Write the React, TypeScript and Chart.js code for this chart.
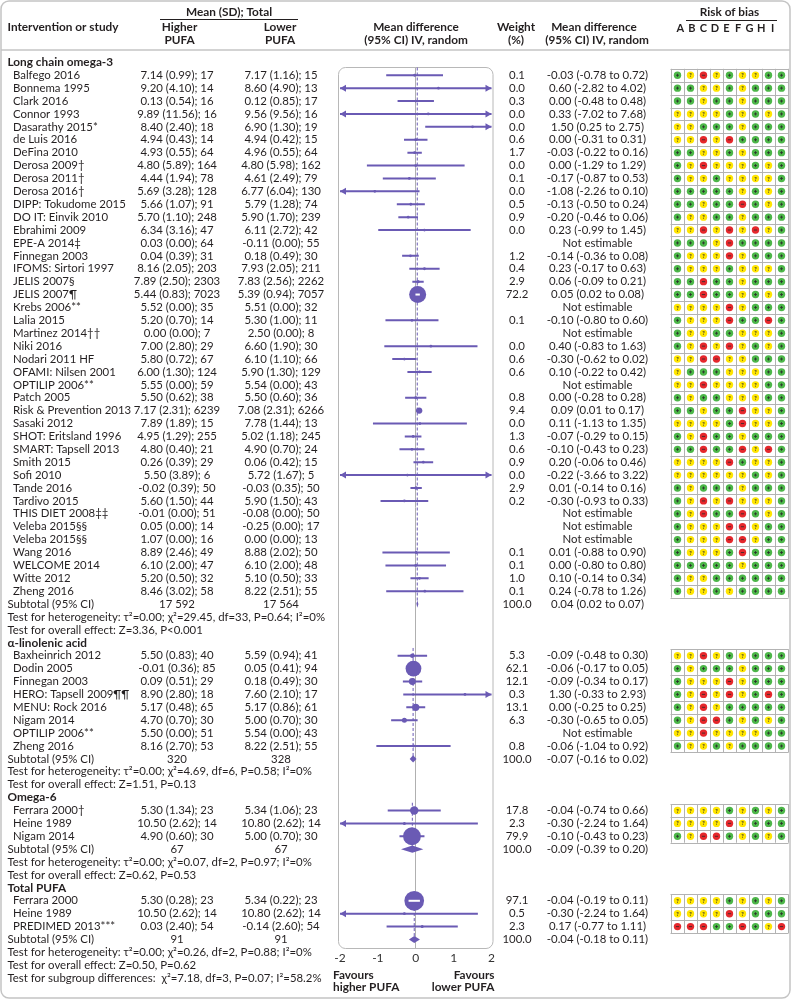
import React, { useEffect, useRef } from "react";
import { Chart, registerables } from "chart.js";

Chart.register(...registerables);

const FONT = "Lato, 'Open Sans', 'DejaVu Sans', sans-serif";
const INK = "#231f20";
const PURPLE = "#6a5ab4";
const LINE_GREY = "#c4c4c4";

// ---------- Long chain omega-3 ----------
const LC_STUDIES = [
  "Balfego 2016", "Bonnema 1995", "Clark 2016", "Connor 1993", "Dasarathy 2015*", "de Luis 2016",
  "DeFina 2010", "Derosa 2009†", "Derosa 2011†", "Derosa 2016†", "DIPP: Tokudome 2015", "DO IT: Einvik 2010",
  "Ebrahimi 2009", "EPE-A 2014‡", "Finnegan 2003", "IFOMS: Sirtori 1997", "JELIS 2007§", "JELIS 2007¶",
  "Krebs 2006**", "Lalia 2015", "Martinez 2014††", "Niki 2016", "Nodari 2011 HF", "OFAMI: Nilsen 2001",
  "OPTILIP 2006**", "Patch 2005", "Risk & Prevention 2013", "Sasaki 2012", "SHOT: Eritsland 1996",
  "SMART: Tapsell 2013", "Smith 2015", "Sofi 2010", "Tande 2016", "Tardivo 2015", "THIS DIET 2008‡‡",
  "Veleba 2015§§", "Veleba 2015§§", "Wang 2016", "WELCOME 2014", "Witte 2012", "Zheng 2016",
];
const LC_HIGHER = [
  "7.14 (0.99); 17", "9.20 (4.10); 14", "0.13 (0.54); 16", "9.89 (11.56); 16", "8.40 (2.40); 18", "4.94 (0.43); 14",
  "4.93 (0.55); 64", "4.80 (5.89); 164", "4.44 (1.94); 78", "5.69 (3.28); 128", "5.66 (1.07); 91", "5.70 (1.10); 248",
  "6.34 (3.16); 47", "0.03 (0.00); 64", "0.04 (0.39); 31", "8.16 (2.05); 203", "7.89 (2.50); 2303", "5.44 (0.83); 7023",
  "5.52 (0.00); 35", "5.20 (0.70); 14", "0.00 (0.00); 7", "7.00 (2.80); 29", "5.80 (0.72); 67", "6.00 (1.30); 124",
  "5.55 (0.00); 59", "5.50 (0.62); 38", "7.17 (2.31); 6239", "7.89 (1.89); 15", "4.95 (1.29); 255",
  "4.80 (0.40); 21", "0.26 (0.39); 29", "5.50 (3.89); 6", "-0.02 (0.39); 50", "5.60 (1.50); 44", "-0.01 (0.00); 51",
  "0.05 (0.00); 14", "1.07 (0.00); 16", "8.89 (2.46); 49", "6.10 (2.00); 47", "5.20 (0.50); 32", "8.46 (3.02); 58",
];
const LC_LOWER = [
  "7.17 (1.16); 15", "8.60 (4.90); 13", "0.12 (0.85); 17", "9.56 (9.56); 16", "6.90 (1.30); 19", "4.94 (0.42); 15",
  "4.96 (0.55); 64", "4.80 (5.98); 162", "4.61 (2.49); 79", "6.77 (6.04); 130", "5.79 (1.28); 74", "5.90 (1.70); 239",
  "6.11 (2.72); 42", "-0.11 (0.00); 55", "0.18 (0.49); 30", "7.93 (2.05); 211", "7.83 (2.56); 2262", "5.39 (0.94); 7057",
  "5.51 (0.00); 32", "5.30 (1.00); 11", "2.50 (0.00); 8", "6.60 (1.90); 30", "6.10 (1.10); 66", "5.90 (1.30); 129",
  "5.54 (0.00); 43", "5.50 (0.60); 36", "7.08 (2.31); 6266", "7.78 (1.44); 13", "5.02 (1.18); 245",
  "4.90 (0.70); 24", "0.06 (0.42); 15", "5.72 (1.67); 5", "-0.03 (0.35); 50", "5.90 (1.50); 43", "-0.08 (0.00); 50",
  "-0.25 (0.00); 17", "0.00 (0.00); 13", "8.88 (2.02); 50", "6.10 (2.00); 48", "5.10 (0.50); 33", "8.22 (2.51); 55",
];
const LC_WEIGHT = [
  0.1, 0.0, 0.3, 0.0, 0.0, 0.6, 1.7, 0.0, 0.1, 0.0, 0.5, 0.9, 0.0, null, 1.2, 0.4, 2.9, 72.2, null, 0.1, null,
  0.0, 0.6, 0.6, null, 0.8, 9.4, 0.0, 1.3, 0.6, 0.9, 0.0, 2.9, 0.2, null, null, null, 0.1, 0.1, 1.0, 0.1,
];
const LC_MD = [
  -0.03, 0.6, 0.0, 0.33, 1.5, 0.0, -0.03, 0.0, -0.17, -1.08, -0.13, -0.2, 0.23, null, -0.14, 0.23, 0.06, 0.05, null,
  -0.1, null, 0.4, -0.3, 0.1, null, 0.0, 0.09, 0.11, -0.07, -0.1, 0.2, -0.22, 0.01, -0.3, null, null, null, 0.01, 0.0,
  0.1, 0.24,
];
const LC_LO = [
  -0.78, -2.82, -0.48, -7.02, 0.25, -0.31, -0.22, -1.29, -0.87, -2.26, -0.5, -0.46, -0.99, null, -0.36, -0.17, -0.09,
  0.02, null, -0.8, null, -0.83, -0.62, -0.22, null, -0.28, 0.01, -1.13, -0.29, -0.43, -0.06, -3.66, -0.14, -0.93,
  null, null, null, -0.88, -0.8, -0.14, -0.78,
];
const LC_HI = [
  0.72, 4.02, 0.48, 7.68, 2.75, 0.31, 0.16, 1.29, 0.53, 0.1, 0.24, 0.06, 1.45, null, 0.08, 0.63, 0.21, 0.08, null,
  0.6, null, 1.63, 0.02, 0.42, null, 0.28, 0.17, 1.35, 0.15, 0.23, 0.46, 3.22, 0.16, 0.33, null, null, null, 0.9, 0.8,
  0.34, 1.26,
];
const LC_ROB = [
  "gyrygyygg", "ggyygyggg", "ggyggyggg", "yyyygygyg", "yygggyggg", "yyryrgggg",
  "ggyygyggg", "gyryyygyg", "gyygyyyyg", "gggggygyg", "ggyggrgyg", "gyyggyggg", "yyryryryg", "gggyrgggg",
  "gyyyryggg", "gyyygyyyg", "ggrggyggg", "ggrggygyg", "yyyyryggg", "gyyyrggrg", "gyyggyyyg", "gyryrygyg",
  "yyrryyggg", "ygggyyygg", "yyryyyygg", "gyggyyygg", "ggyggryyg", "yyyygryyg", "gyrggyggg", "ggrggryrg",
  "yyyyrgyyg", "yyyyyygyg", "gygggyggg", "gyryryyyg", "gyrggrgyg", "gyyyrrygg", "gyyyrrygg", "gyyygrggg",
  "gggggyggg", "gyygggggg", "gyygygggg",
];
const LC_TOTALS = ["17 592", "17 564"];
const LC_POOLED = [0.04, 0.02, 0.07];
const LC_HET = "Test for heterogeneity: τ²=0.00; χ²=29.45, df=33, P=0.64; I²=0%";
const LC_OVERALL = "Test for overall effect: Z=3.36, P<0.001";

// ---------- α-linolenic acid ----------
const ALA_STUDIES = [
  "Baxheinrich 2012", "Dodin 2005", "Finnegan 2003", "HERO: Tapsell 2009¶¶", "MENU: Rock 2016", "Nigam 2014",
  "OPTILIP 2006**", "Zheng 2016",
];
const ALA_HIGHER = [
  "5.50 (0.83); 40", "-0.01 (0.36); 85", "0.09 (0.51); 29", "8.90 (2.80); 18", "5.17 (0.48); 65", "4.70 (0.70); 30",
  "5.50 (0.00); 51", "8.16 (2.70); 53",
];
const ALA_LOWER = [
  "5.59 (0.94); 41", "0.05 (0.41); 94", "0.18 (0.49); 30", "7.60 (2.10); 17", "5.17 (0.86); 61", "5.00 (0.70); 30",
  "5.54 (0.00); 43", "8.22 (2.51); 55",
];
const ALA_WEIGHT = [5.3, 62.1, 12.1, 0.3, 13.1, 6.3, null, 0.8];
const ALA_MD = [-0.09, -0.06, -0.09, 1.3, 0.0, -0.3, null, -0.06];
const ALA_LO = [-0.48, -0.17, -0.34, -0.33, -0.25, -0.65, null, -1.04];
const ALA_HI = [0.3, 0.05, 0.17, 2.93, 0.25, 0.05, null, 0.92];
const ALA_ROB = ["yyrygyggg", "gygggyggg", "gyyyryggg", "gyryrygrg", "gyryggggg", "gyrrgygyg", "yyryyyygg", "gyygygggg"];
const ALA_TOTALS = ["320", "328"];
const ALA_POOLED = [-0.07, -0.16, 0.02];
const ALA_HET = "Test for heterogeneity: τ²=0.00; χ²=4.69, df=6, P=0.58; I²=0%";
const ALA_OVERALL = "Test for overall effect: Z=1.51, P=0.13";

// ---------- Omega-6 ----------
const N6_STUDIES = ["Ferrara 2000†", "Heine 1989", "Nigam 2014"];
const N6_HIGHER = ["5.30 (1.34); 23", "10.50 (2.62); 14", "4.90 (0.60); 30"];
const N6_LOWER = ["5.34 (1.06); 23", "10.80 (2.62); 14", "5.00 (0.70); 30"];
const N6_WEIGHT = [17.8, 2.3, 79.9];
const N6_MD = [-0.04, -0.3, -0.1];
const N6_LO = [-0.74, -2.24, -0.43];
const N6_HI = [0.66, 1.64, 0.23];
const N6_ROB = ["yyyygygyg", "yyyyryggg", "gyrrgygyg"];
const N6_TOTALS = ["67", "67"];
const N6_POOLED = [-0.09, -0.39, 0.2];
const N6_HET = "Test for heterogeneity: τ²=0.00; χ²=0.07, df=2, P=0.97; I²=0%";
const N6_OVERALL = "Test for overall effect: Z=0.62, P=0.53";

// ---------- Total PUFA ----------
const TP_STUDIES = ["Ferrara 2000", "Heine 1989", "PREDIMED 2013***"];
const TP_HIGHER = ["5.30 (0.28); 23", "10.50 (2.62); 14", "0.03 (2.40); 54"];
const TP_LOWER = ["5.34 (0.22); 23", "10.80 (2.62); 14", "-0.14 (2.60); 54"];
const TP_WEIGHT = [97.1, 0.5, 2.3];
const TP_MD = [-0.04, -0.3, 0.17];
const TP_LO = [-0.19, -2.24, -0.77];
const TP_HI = [0.11, 1.64, 1.11];
const TP_ROB = ["yyyygygyg", "yyyyryggg", "rrrggrgyr"];
const TP_TOTALS = ["91", "91"];
const TP_POOLED = [-0.04, -0.18, 0.11];
const TP_HET = "Test for heterogeneity: τ²=0.00; χ²=0.26, df=2, P=0.88; I²=0%";
const TP_OVERALL = "Test for overall effect: Z=0.50, P=0.62";

const SUBGROUP_TEST = "Test for subgroup differences:  χ²=7.18, df=3, P=0.07; I²=58.2%";
const X_TICKS = [-2, -1, 0, 1, 2];
const RISK_LETTERS = ["A", "B", "C", "D", "E", "F", "G", "H", "I"];

type Group = {
  title: string; studies: string[]; higher: string[]; lower: string[];
  weight: (number | null)[]; md: (number | null)[]; lo: (number | null)[]; hi: (number | null)[];
  rob: string[]; totals: string[]; pooled: number[]; het: string; overall: string;
};

const GROUPS: Group[] = [
  { title: "Long chain omega-3", studies: LC_STUDIES, higher: LC_HIGHER, lower: LC_LOWER, weight: LC_WEIGHT, md: LC_MD, lo: LC_LO, hi: LC_HI, rob: LC_ROB, totals: LC_TOTALS, pooled: LC_POOLED, het: LC_HET, overall: LC_OVERALL },
  { title: "α-linolenic acid", studies: ALA_STUDIES, higher: ALA_HIGHER, lower: ALA_LOWER, weight: ALA_WEIGHT, md: ALA_MD, lo: ALA_LO, hi: ALA_HI, rob: ALA_ROB, totals: ALA_TOTALS, pooled: ALA_POOLED, het: ALA_HET, overall: ALA_OVERALL },
  { title: "Omega-6", studies: N6_STUDIES, higher: N6_HIGHER, lower: N6_LOWER, weight: N6_WEIGHT, md: N6_MD, lo: N6_LO, hi: N6_HI, rob: N6_ROB, totals: N6_TOTALS, pooled: N6_POOLED, het: N6_HET, overall: N6_OVERALL },
  { title: "Total PUFA", studies: TP_STUDIES, higher: TP_HIGHER, lower: TP_LOWER, weight: TP_WEIGHT, md: TP_MD, lo: TP_LO, hi: TP_HI, rob: TP_ROB, totals: TP_TOTALS, pooled: TP_POOLED, het: TP_HET, overall: TP_OVERALL },
];

type Row = { kind: string; gi: number; si: number };
const ROWS: Row[] = [];
GROUPS.forEach((g, gi) => {
  ROWS.push({ kind: "group", gi, si: -1 });
  g.studies.forEach((_, si) => ROWS.push({ kind: "study", gi, si }));
  ROWS.push({ kind: "subtotal", gi, si: -1 });
  ROWS.push({ kind: "het", gi, si: -1 });
  ROWS.push({ kind: "overall", gi, si: -1 });
});
ROWS.push({ kind: "subgroup", gi: -1, si: -1 });

const rowOf = (gi: number, si: number) => ROWS.findIndex((r) => r.kind === "study" && r.gi === gi && r.si === si);
const subtotalRow = (gi: number) => ROWS.findIndex((r) => r.kind === "subtotal" && r.gi === gi);

const fmt = (v: number) => v.toFixed(2);
const ciText = (m: number | null, l: number | null, h: number | null) =>
  m === null || l === null || h === null ? "Not estimable" : `${fmt(m)} (${fmt(l)} to ${fmt(h)})`;
const markerRadius = (w: number) => Math.max(1.4, Math.sqrt(w));

// datasets
const markerData: { x: number; y: number }[] = [];
const markerRadii: number[] = [];
const ciData: { x: number; y: number | null }[] = [];
GROUPS.forEach((g, gi) => {
  g.studies.forEach((_, si) => {
    const m = g.md[si], l = g.lo[si], h = g.hi[si], w = g.weight[si];
    if (m === null || l === null || h === null || w === null) return;
    const r = rowOf(gi, si);
    markerData.push({ x: m, y: r });
    markerRadii.push(markerRadius(w));
    ciData.push({ x: l, y: r }, { x: h, y: r }, { x: h, y: null });
  });
});
const pooledDatasets = GROUPS.map((g, gi) => ({
  type: "scatter" as const,
  data: [
    { x: g.pooled[0], y: rowOf(gi, 0) - 0.6 },
    { x: g.pooled[0], y: subtotalRow(gi) },
  ],
  showLine: true,
  borderColor: PURPLE,
  borderWidth: 1,
  borderDash: [3, 2],
  pointRadius: 0,
  order: 3,
}));

const BODY_SIZE = 11.4;
const COLS = { nameHead: 7.5, nameStudy: 13, higher: 177, lower: 281, weight: 517, md: 597.5 };
const ROB_X = 670.5;
const ROB_W = 13;
const ROB_FILL: Record<string, string> = { g: "#4cb648", y: "#ffe500", r: "#e5282c" };

const forestPlugin = {
  id: "forest",
  beforeDatasetsDraw(chart: any) {
    const { ctx, chartArea: a } = chart;
    ctx.save();
    ctx.strokeStyle = "#b8b8b8";
    ctx.lineWidth = 1;
    ctx.beginPath();
    ctx.roundRect(a.left - 1.5, a.top + 0.5, a.right - a.left + 3, a.bottom - a.top, 7);
    ctx.stroke();
    ctx.restore();
  },
  afterDatasetsDraw(chart: any) {
    const { ctx } = chart;
    const xs = chart.scales.x, ys = chart.scales.y;
    ctx.save();
    ctx.fillStyle = PURPLE;
    GROUPS.forEach((g, gi) => {
      g.studies.forEach((_, si) => {
        const m = g.md[si], l = g.lo[si], h = g.hi[si], w = g.weight[si];
        if (m === null || l === null || h === null || w === null) return;
        const y = ys.getPixelForValue(rowOf(gi, si));
        if (l < xs.min) {
          const x0 = xs.getPixelForValue(xs.min);
          ctx.beginPath();
          ctx.moveTo(x0, y);
          ctx.lineTo(x0 + 6, y - 3.5);
          ctx.lineTo(x0 + 6, y + 3.5);
          ctx.closePath();
          ctx.fill();
        }
        if (h > xs.max) {
          const x1 = xs.getPixelForValue(xs.max);
          ctx.beginPath();
          ctx.moveTo(x1, y);
          ctx.lineTo(x1 - 6, y - 3.5);
          ctx.lineTo(x1 - 6, y + 3.5);
          ctx.closePath();
          ctx.fill();
        }
        const rad = markerRadius(w);
        const lp = xs.getPixelForValue(l), hp = xs.getPixelForValue(h), mp = xs.getPixelForValue(m);
        if (rad > 8 && lp > mp - rad && hp < mp + rad) {
          const half = Math.max(2.2, (hp - lp) / 2);
          const c = (lp + hp) / 2;
          ctx.save();
          ctx.strokeStyle = "#ffffff";
          ctx.lineWidth = 2;
          ctx.beginPath();
          ctx.moveTo(Math.max(c - half, mp - rad + 2), y);
          ctx.lineTo(Math.min(c + half, mp + rad - 2), y);
          ctx.stroke();
          ctx.restore();
        }
      });
      const r = subtotalRow(gi);
      const y = ys.getPixelForValue(r);
      const [p, pl, ph] = g.pooled;
      ctx.beginPath();
      ctx.moveTo(xs.getPixelForValue(pl), y);
      ctx.lineTo(xs.getPixelForValue(p), y - 3.6);
      ctx.lineTo(xs.getPixelForValue(ph), y);
      ctx.lineTo(xs.getPixelForValue(p), y + 3.6);
      ctx.closePath();
      ctx.fill();
    });
    ctx.restore();
  },
  afterDraw(chart: any) {
    const { ctx } = chart;
    const ys = chart.scales.y;
    const W = chart.width, H = chart.height;
    const py = (r: number) => ys.getPixelForValue(r);
    const rowH = Math.abs(py(1) - py(0));
    const text = (s: string, x: number, y: number, align: CanvasTextAlign = "left", bold = false, size = BODY_SIZE) => {
      ctx.font = `${bold ? "bold " : ""}${size}px ${FONT}`;
      ctx.textAlign = align;
      ctx.fillText(s, x, y);
    };
    ctx.save();
    ctx.fillStyle = INK;
    ctx.textBaseline = "middle";

    // header
    text("Intervention or study", COLS.nameHead, 27, "left", true, 11.8);
    text("Mean (SD); Total", 229, 12.5, "center", true, 11.8);
    text("Higher", 179.5, 27, "center", true, 11.8);
    text("PUFA", 179.5, 40, "center", true, 11.8);
    text("Lower", 280, 27, "center", true, 11.8);
    text("PUFA", 280, 40, "center", true, 11.8);
    text("Mean difference", 416, 27, "center", true, 11.8);
    text("(95% CI) IV, random", 416, 40, "center", true, 11.8);
    text("Weight", 516, 27, "center", true, 11.8);
    text("(%)", 516, 40, "center", true, 11.8);
    text("Mean difference", 594, 27, "center", true, 11.8);
    text("(95% CI) IV, random", 597, 40, "center", true, 11.8);
    text("Risk of bias", 729.5, 12.5, "center", true, 11.8);
    RISK_LETTERS.forEach((L, i) => text(L, 680.3 + i * 11.55, 28, "center", true, 11));
    ctx.strokeStyle = INK;
    ctx.lineWidth = 1;
    ctx.beginPath();
    ctx.moveTo(160, 19.5); ctx.lineTo(298, 19.5);
    ctx.moveTo(686, 20.5); ctx.lineTo(777, 20.5);
    ctx.stroke();
    ctx.strokeStyle = LINE_GREY;
    ctx.lineWidth = 1.5;
    ctx.beginPath();
    ctx.moveTo(1, 50); ctx.lineTo(790, 50);
    ctx.stroke();

    // table rows
    ROWS.forEach((row, ri) => {
      const y = py(ri);
      const g = GROUPS[row.gi];
      if (row.kind === "group") text(g.title, COLS.nameHead, y, "left", true, 11.8);
      else if (row.kind === "study") {
        const si = row.si;
        text(g.studies[si], COLS.nameStudy, y);
        text(g.higher[si], COLS.higher, y, "center");
        text(g.lower[si], COLS.lower, y, "center");
        const w = g.weight[si];
        if (w !== null) text(w.toFixed(1), COLS.weight, y, "center");
        text(ciText(g.md[si], g.lo[si], g.hi[si]), COLS.md, y, "center");
      } else if (row.kind === "subtotal") {
        text("Subtotal (95% CI)", COLS.nameHead, y);
        text(g.totals[0], COLS.higher, y, "center");
        text(g.totals[1], COLS.lower, y, "center");
        text("100.0", COLS.weight, y, "center");
        text(ciText(g.pooled[0], g.pooled[1], g.pooled[2]), COLS.md, y, "center");
      } else if (row.kind === "het") text(g.het, COLS.nameHead, y);
      else if (row.kind === "overall") text(g.overall, COLS.nameHead, y);
      else if (row.kind === "subgroup") text(SUBGROUP_TEST, COLS.nameHead, y);
    });

    // risk of bias grids
    GROUPS.forEach((g, gi) => {
      const r0 = rowOf(gi, 0), r1 = rowOf(gi, g.studies.length - 1);
      const top = py(r0) - rowH / 2, bottom = py(r1) + rowH / 2;
      ctx.strokeStyle = "#b3b3b3";
      ctx.lineWidth = 1;
      ctx.beginPath();
      for (let k = 0; k <= 9; k++) {
        const x = Math.round(ROB_X + k * ROB_W) + 0.5;
        ctx.moveTo(x, top); ctx.lineTo(x, bottom);
      }
      for (let s = 0; s <= g.studies.length; s++) {
        const yy = Math.round(top + s * rowH) + 0.5;
        ctx.moveTo(ROB_X, yy); ctx.lineTo(ROB_X + 9 * ROB_W + 1, yy);
      }
      ctx.stroke();
      g.rob.forEach((code, si) => {
        const yc = py(rowOf(gi, si));
        code.split("").forEach((c, k) => {
          const xc = ROB_X + k * ROB_W + ROB_W / 2 + 0.5;
          ctx.fillStyle = ROB_FILL[c];
          ctx.beginPath();
          ctx.arc(xc, yc, 3.7, 0, Math.PI * 2);
          ctx.fill();
          ctx.strokeStyle = "#2a2a2a";
          ctx.fillStyle = "#2a2a2a";
          ctx.lineWidth = 0.8;
          if (c === "g") {
            ctx.beginPath();
            ctx.moveTo(xc - 1.5, yc); ctx.lineTo(xc + 1.5, yc);
            ctx.moveTo(xc, yc - 1.5); ctx.lineTo(xc, yc + 1.5);
            ctx.stroke();
          } else if (c === "r") {
            ctx.beginPath();
            ctx.moveTo(xc - 1.6, yc); ctx.lineTo(xc + 1.6, yc);
            ctx.stroke();
          } else {
            ctx.font = `bold 5.5px ${FONT}`;
            ctx.textAlign = "center";
            ctx.fillText("?", xc, yc + 0.3);
          }
        });
      });
    });

    // favours labels
    ctx.fillStyle = INK;
    text("Favours", 333, 975, "left", true, 11.8);
    text("higher PUFA", 333, 987.5, "left", true, 11.8);
    text("Favours", 494.5, 975, "right", true, 11.8);
    text("lower PUFA", 494.5, 987.5, "right", true, 11.8);

    // outer frame
    ctx.strokeStyle = LINE_GREY;
    ctx.lineWidth = 1.5;
    ctx.beginPath();
    ctx.roundRect(1, 1, W - 4, H - 3, 8);
    ctx.stroke();
    ctx.restore();
  },
};

export default function App() {
  const ref = useRef<HTMLCanvasElement>(null);
  useEffect(() => {
    const canvas = ref.current;
    if (!canvas) return;
    const chart = new Chart(canvas, {
      type: "scatter",
      data: {
        datasets: [
          {
            data: markerData,
            pointRadius: (c: any) => markerRadii[c.dataIndex] ?? 1.4,
            pointBackgroundColor: PURPLE,
            pointBorderWidth: 0,
            pointStyle: "circle",
            showLine: false,
            order: 1,
          },
          {
            data: ciData as any,
            showLine: true,
            spanGaps: false,
            borderColor: PURPLE,
            borderWidth: 2,
            pointRadius: 0,
            order: 2,
          },
          ...pooledDatasets,
        ] as any,
      },
      options: {
        animation: false,
        responsive: false,
        devicePixelRatio: 1,
        events: [],
        layout: { padding: { left: 340, right: 301.5, top: 67, bottom: 32 } },
        plugins: { legend: { display: false }, tooltip: { enabled: false } },
        scales: {
          x: {
            type: "linear",
            min: -2,
            max: 2,
            afterBuildTicks: (s: any) => { s.ticks = X_TICKS.map((v) => ({ value: v })); },
            afterFit: (s: any) => { s.height = 20; },
            grid: {
              drawTicks: false,
              lineWidth: 1,
              color: (c: any) => (c.tick && c.tick.value === 0 ? "#b0b0b0" : "rgba(0,0,0,0)"),
            },
            border: { display: false },
            ticks: { padding: 3, color: "#333", font: { family: FONT, size: 12 } },
          },
          y: { type: "linear", display: false, reverse: true, min: 0.36, max: 68.66 },
        },
      },
      plugins: [forestPlugin],
    } as any);
    return () => chart.destroy();
  }, []);
  return (
    <div style={{ position: "absolute", left: 0, top: 0, width: 793, height: 1000, background: "#fff" }}>
      <canvas ref={ref} width={793} height={1000} style={{ display: "block", width: 793, height: 1000 }} />
    </div>
  );
}
